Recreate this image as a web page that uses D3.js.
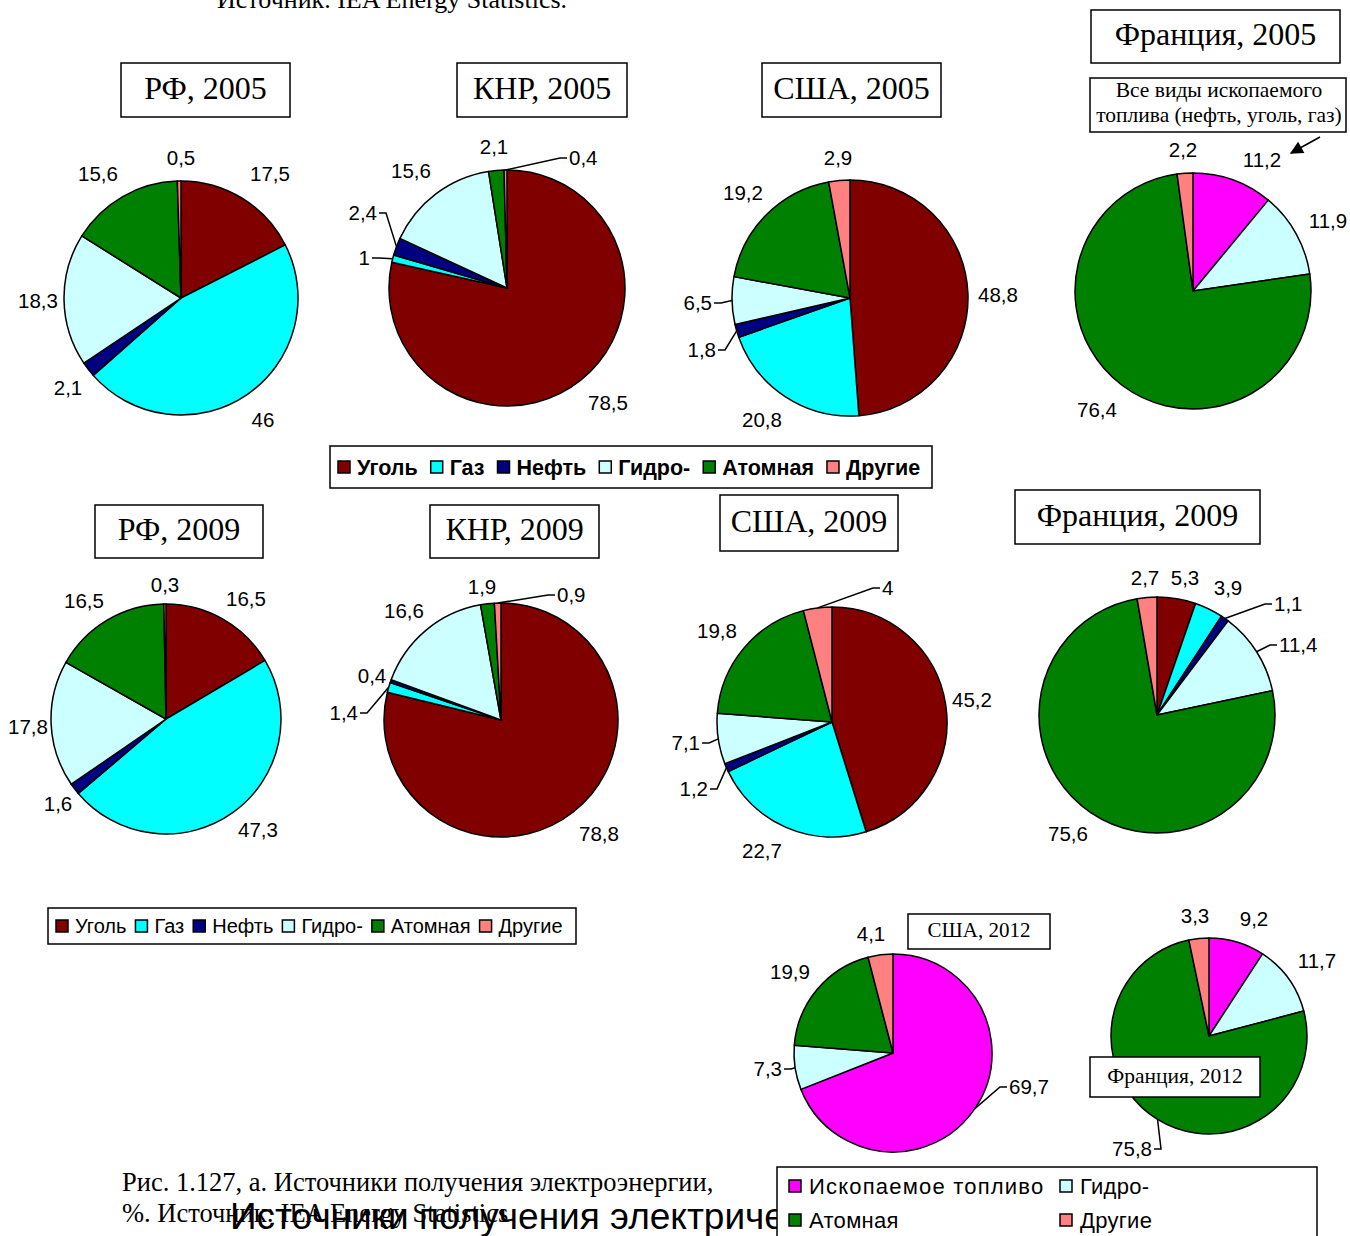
<!DOCTYPE html>
<html>
<head>
<meta charset="utf-8">
<script src="https://cdn.jsdelivr.net/npm/d3@7"></script>
<style>
  body { margin: 0; background: #fff; }
  .lbl { font-family: Arial, "Liberation Sans", sans-serif; font-size: 20.5px; fill: #000; }
  .ttl { font-family: "Times New Roman", "Liberation Serif", serif; fill: #000; }
</style>
</head>
<body>
<div id="chart"></div>
<script>
// categories
var sources6 = ["Уголь", "Газ", "Нефть", "Гидро-", "Атомная", "Другие"];
var sources4 = ["Ископаемое топливо", "Гидро-", "Атомная", "Другие"];

// shares, %
var rf2005  = [17.5, 46, 2.1, 18.3, 15.6, 0.5];
var cn2005  = [78.5, 1, 2.4, 15.6, 2.1, 0.4];
var us2005  = [48.8, 20.8, 1.8, 6.5, 19.2, 2.9];
var fr2005  = [11.2, 11.9, 76.4, 2.2];
var rf2009  = [16.5, 47.3, 1.6, 17.8, 16.5, 0.3];
var cn2009  = [78.8, 1.4, 0.4, 16.6, 1.9, 0.9];
var us2009  = [45.2, 22.7, 1.2, 7.1, 19.8, 4];
var fr2009  = [5.3, 3.9, 1.1, 11.4, 75.6, 2.7];
var us2012  = [69.7, 7.3, 19.9, 4.1];
var fr2012  = [9.2, 11.7, 75.8, 3.3];

var color6 = d3.scaleOrdinal().domain(sources6)
    .range(["#800000", "#00ffff", "#000080", "#ccffff", "#008000", "#ff8080"]);
var color4 = d3.scaleOrdinal().domain(sources4)
    .range(["#ff00ff", "#ccffff", "#008000", "#ff8080"]);

var W = 1350, H = 1236;
var svg = d3.select("#chart").append("svg").attr("width", W).attr("height", H);
svg.append("rect").attr("width", W).attr("height", H).attr("fill", "#fff");

// layout: pie centre / radius, title box, label spots [x, y, anchor] (m = middle, e/s = with leader)
var charts = [
  {vals: rf2005, cats: sources6, col: color6, cx: 181, cy: 298, r: 117,
   title: {t: "РФ, 2005", x: 121, y: 63, w: 169, h: 54, fs: 32},
   labels: [[270,174,"m"],[263,420,"m"],[68,388,"m"],[38,301,"m"],[98,174,"m"],[181,158,"m"]]},
  {vals: cn2005, cats: sources6, col: color6, cx: 507, cy: 288, r: 118,
   title: {t: "КНР, 2005", x: 457, y: 63, w: 170, h: 54, fs: 32},
   labels: [[608,403,"m"],[370,258,"e"],[377,213,"e"],[411,171,"m"],[494,147,"m"],[569,158,"s"]]},
  {vals: us2005, cats: sources6, col: color6, cx: 850, cy: 298, r: 118,
   title: {t: "США, 2005", x: 762, y: 63, w: 179, h: 54, fs: 32},
   labels: [[998,295,"m"],[762,420,"m"],[716,350,"e"],[712,303,"e"],[743,193,"m"],[838,158,"m"]]},
  {vals: fr2005, cats: sources4, col: color4, cx: 1193, cy: 291, r: 118,
   title: {t: "Франция, 2005", x: 1091, y: 10, w: 249, h: 53, fs: 32},
   labels: [[1262,160,"m"],[1328,221,"m"],[1097,410,"m"],[1183,150,"m"]]},
  {vals: rf2009, cats: sources6, col: color6, cx: 166, cy: 719, r: 115,
   title: {t: "РФ, 2009", x: 95, y: 505, w: 168, h: 53, fs: 32},
   labels: [[246,599,"m"],[258,830,"m"],[58,804,"m"],[28,727,"m"],[84,601,"m"],[165,585,"m"]]},
  {vals: cn2009, cats: sources6, col: color6, cx: 501, cy: 720, r: 117,
   title: {t: "КНР, 2009", x: 430, y: 505, w: 169, h: 53, fs: 32},
   labels: [[599,834,"m"],[358,713,"e"],[372,676,"m"],[404,611,"m"],[482,587,"m"],[557,595,"s"]]},
  {vals: us2009, cats: sources6, col: color6, cx: 832, cy: 722, r: 115,
   title: {t: "США, 2009", x: 720, y: 495, w: 178, h: 56, fs: 32},
   labels: [[972,700,"m"],[762,851,"m"],[708,789,"e"],[700,743,"e"],[717,631,"m"],[882,588,"s"]]},
  {vals: fr2009, cats: sources6, col: color6, cx: 1157, cy: 715, r: 118,
   title: {t: "Франция, 2009", x: 1015, y: 490, w: 245, h: 54, fs: 32},
   labels: [[1185,578,"m"],[1228,588,"m"],[1274,604,"s"],[1279,645,"s"],[1068,834,"m"],[1145,578,"m"]]},
  {vals: us2012, cats: sources4, col: color4, cx: 893, cy: 1053, r: 99,
   title: {t: "США, 2012", x: 908, y: 914, w: 142, h: 35, fs: 21},
   labels: [[1009,1087,"s"],[782,1069,"e"],[790,972,"m"],[871,934,"m"]]},
  {vals: fr2012, cats: sources4, col: color4, cx: 1209, cy: 1036, r: 98,
   title: {t: "Франция, 2012", x: 1090, y: 1057, w: 170, h: 40, fs: 21.5},
   labels: [[1254,919,"m"],[1317,961,"m"],[1152,1149,"e"],[1195,916,"m"]]}
];

var pie = d3.pie().sort(null).value(function(d) { return d; });
var fmt = function(v) { return String(v).replace(".", ","); };

charts.forEach(function(c) {
  var g = svg.append("g").attr("transform", "translate(" + c.cx + "," + c.cy + ")");
  var arc = d3.arc().innerRadius(0).outerRadius(c.r);
  var edge = d3.arc().innerRadius(c.r).outerRadius(c.r);
  var arcs = pie(c.vals);

  g.selectAll("path.slice").data(arcs).enter().append("path")
    .attr("class", "slice")
    .attr("d", arc)
    .attr("fill", function(d, i) { return c.col(c.cats[i]); })
    .attr("stroke", "#000")
    .attr("stroke-width", 1.5)
    .attr("stroke-linejoin", "round");

  arcs.forEach(function(d, i) {
    var L = c.labels[i];
    svg.append("text").attr("class", "lbl")
      .attr("x", L[0]).attr("y", L[1]).attr("dy", "0.35em")
      .attr("text-anchor", L[2] == "m" ? "middle" : (L[2] == "e" ? "end" : "start"))
      .text(fmt(c.vals[i]));
    if (L[2] != "m") {
      var p = edge.centroid(d);
      var sx = L[2] == "e" ? 1 : -1;
      var pts = [[L[0] + sx * 2, L[1]], [L[0] + sx * 9, L[1]], [c.cx + p[0], c.cy + p[1]]];
      svg.append("path").attr("d", d3.line()(pts))
        .attr("fill", "none").attr("stroke", "#000").attr("stroke-width", 1.5);
    }
  });
});

// title boxes (drawn after pies so France 2012 sits on top)
charts.forEach(function(c) {
  var tt = c.title;
  svg.append("rect").attr("x", tt.x).attr("y", tt.y).attr("width", tt.w).attr("height", tt.h)
    .attr("fill", "#fff").attr("stroke", "#000").attr("stroke-width", 1.5);
  svg.append("text").attr("class", "ttl")
    .attr("x", tt.x + tt.w / 2).attr("y", tt.y + tt.h / 2).attr("dy", "0.28em")
    .attr("text-anchor", "middle").style("font-size", tt.fs + "px")
    .text(tt.t);
});

// note on France 2005
svg.append("rect").attr("x", 1090).attr("y", 78).attr("width", 256).attr("height", 54)
  .attr("fill", "#fff").attr("stroke", "#000").attr("stroke-width", 1.5);
svg.append("text").attr("class", "ttl").attr("x", 1219).attr("y", 97).attr("text-anchor", "middle")
  .style("font-size", "21.5px").text("Все виды ископаемого");
svg.append("text").attr("class", "ttl").attr("x", 1219).attr("y", 122).attr("text-anchor", "middle")
  .style("font-size", "21.5px").text("топлива (нефть, уголь, газ)");
svg.append("defs").append("marker").attr("id", "arw")
  .attr("viewBox", "0 0 10 10").attr("refX", 9).attr("refY", 5)
  .attr("markerWidth", 17).attr("markerHeight", 13).attr("markerUnits", "userSpaceOnUse")
  .attr("orient", "auto")
  .append("path").attr("d", "M0,0L10,5L0,10Z").attr("fill", "#000");
svg.append("line").attr("x1", 1320).attr("y1", 137).attr("x2", 1291).attr("y2", 153)
  .attr("stroke", "#000").attr("stroke-width", 1.5).attr("marker-end", "url(#arw)");

// top cut-off source line
svg.append("text").attr("class", "ttl").attr("x", 217).attr("y", 8)
  .style("font-size", "26px").text("Источник. IEA Energy Statistics.");

// caption
svg.append("text").attr("class", "ttl").attr("x", 122).attr("y", 1191)
  .style("font-size", "26.5px").text("Рис. 1.127, а. Источники получения электроэнергии,");
svg.append("text").attr("class", "ttl").attr("x", 122).attr("y", 1222)
  .style("font-size", "26.5px").text("%. Источник: IEA Energy Statistics");
svg.append("text").attr("x", 230).attr("y", 1229)
  .style("font-family", "Arial, 'Liberation Sans', sans-serif").style("font-size", "37px")
  .text("Источники получения электричества");

// legends
function flowLegend(x0, y0, w, h, cats, col, fs, bold, gap) {
  svg.append("rect").attr("x", x0).attr("y", y0).attr("width", w).attr("height", h)
    .attr("fill", "#fff").attr("stroke", "#000").attr("stroke-width", 1.5);
  var x = x0 + 8, cy = y0 + h / 2;
  cats.forEach(function(k) {
    svg.append("rect").attr("x", x).attr("y", cy - 6).attr("width", 12).attr("height", 12)
      .attr("fill", col(k)).attr("stroke", "#000").attr("stroke-width", 1.5);
    var t = svg.append("text").attr("class", "lbl").attr("x", x + 19).attr("y", cy).attr("dy", "0.35em")
      .style("font-size", fs + "px").style("font-weight", bold ? "bold" : "normal").text(k);
    x += 19 + t.node().getComputedTextLength() + gap;
  });
}
flowLegend(330, 446, 602, 42, sources6, color6, 21.5, true, 13);
flowLegend(48, 908, 528, 36, sources6, color6, 20, false, 9);

// legend for the 2012 pies (2 x 2)
svg.append("rect").attr("x", 777).attr("y", 1167).attr("width", 540).attr("height", 90)
  .attr("fill", "#fff").attr("stroke", "#000").attr("stroke-width", 1.5);
var l4x = [789, 1060], l4y = [1186, 1220];
sources4.forEach(function(k, i) {
  var x = l4x[i % 2], y = l4y[Math.floor(i / 2)];
  svg.append("rect").attr("x", x).attr("y", y - 6).attr("width", 12).attr("height", 12)
    .attr("fill", color4(k)).attr("stroke", "#000").attr("stroke-width", 1.5);
  svg.append("text").attr("class", "lbl").attr("x", x + 20).attr("y", y).attr("dy", "0.35em")
    .style("font-size", "22px").style("letter-spacing", i == 0 ? "1.2px" : "0.3px").text(k);
});
</script>
</body>
</html>
